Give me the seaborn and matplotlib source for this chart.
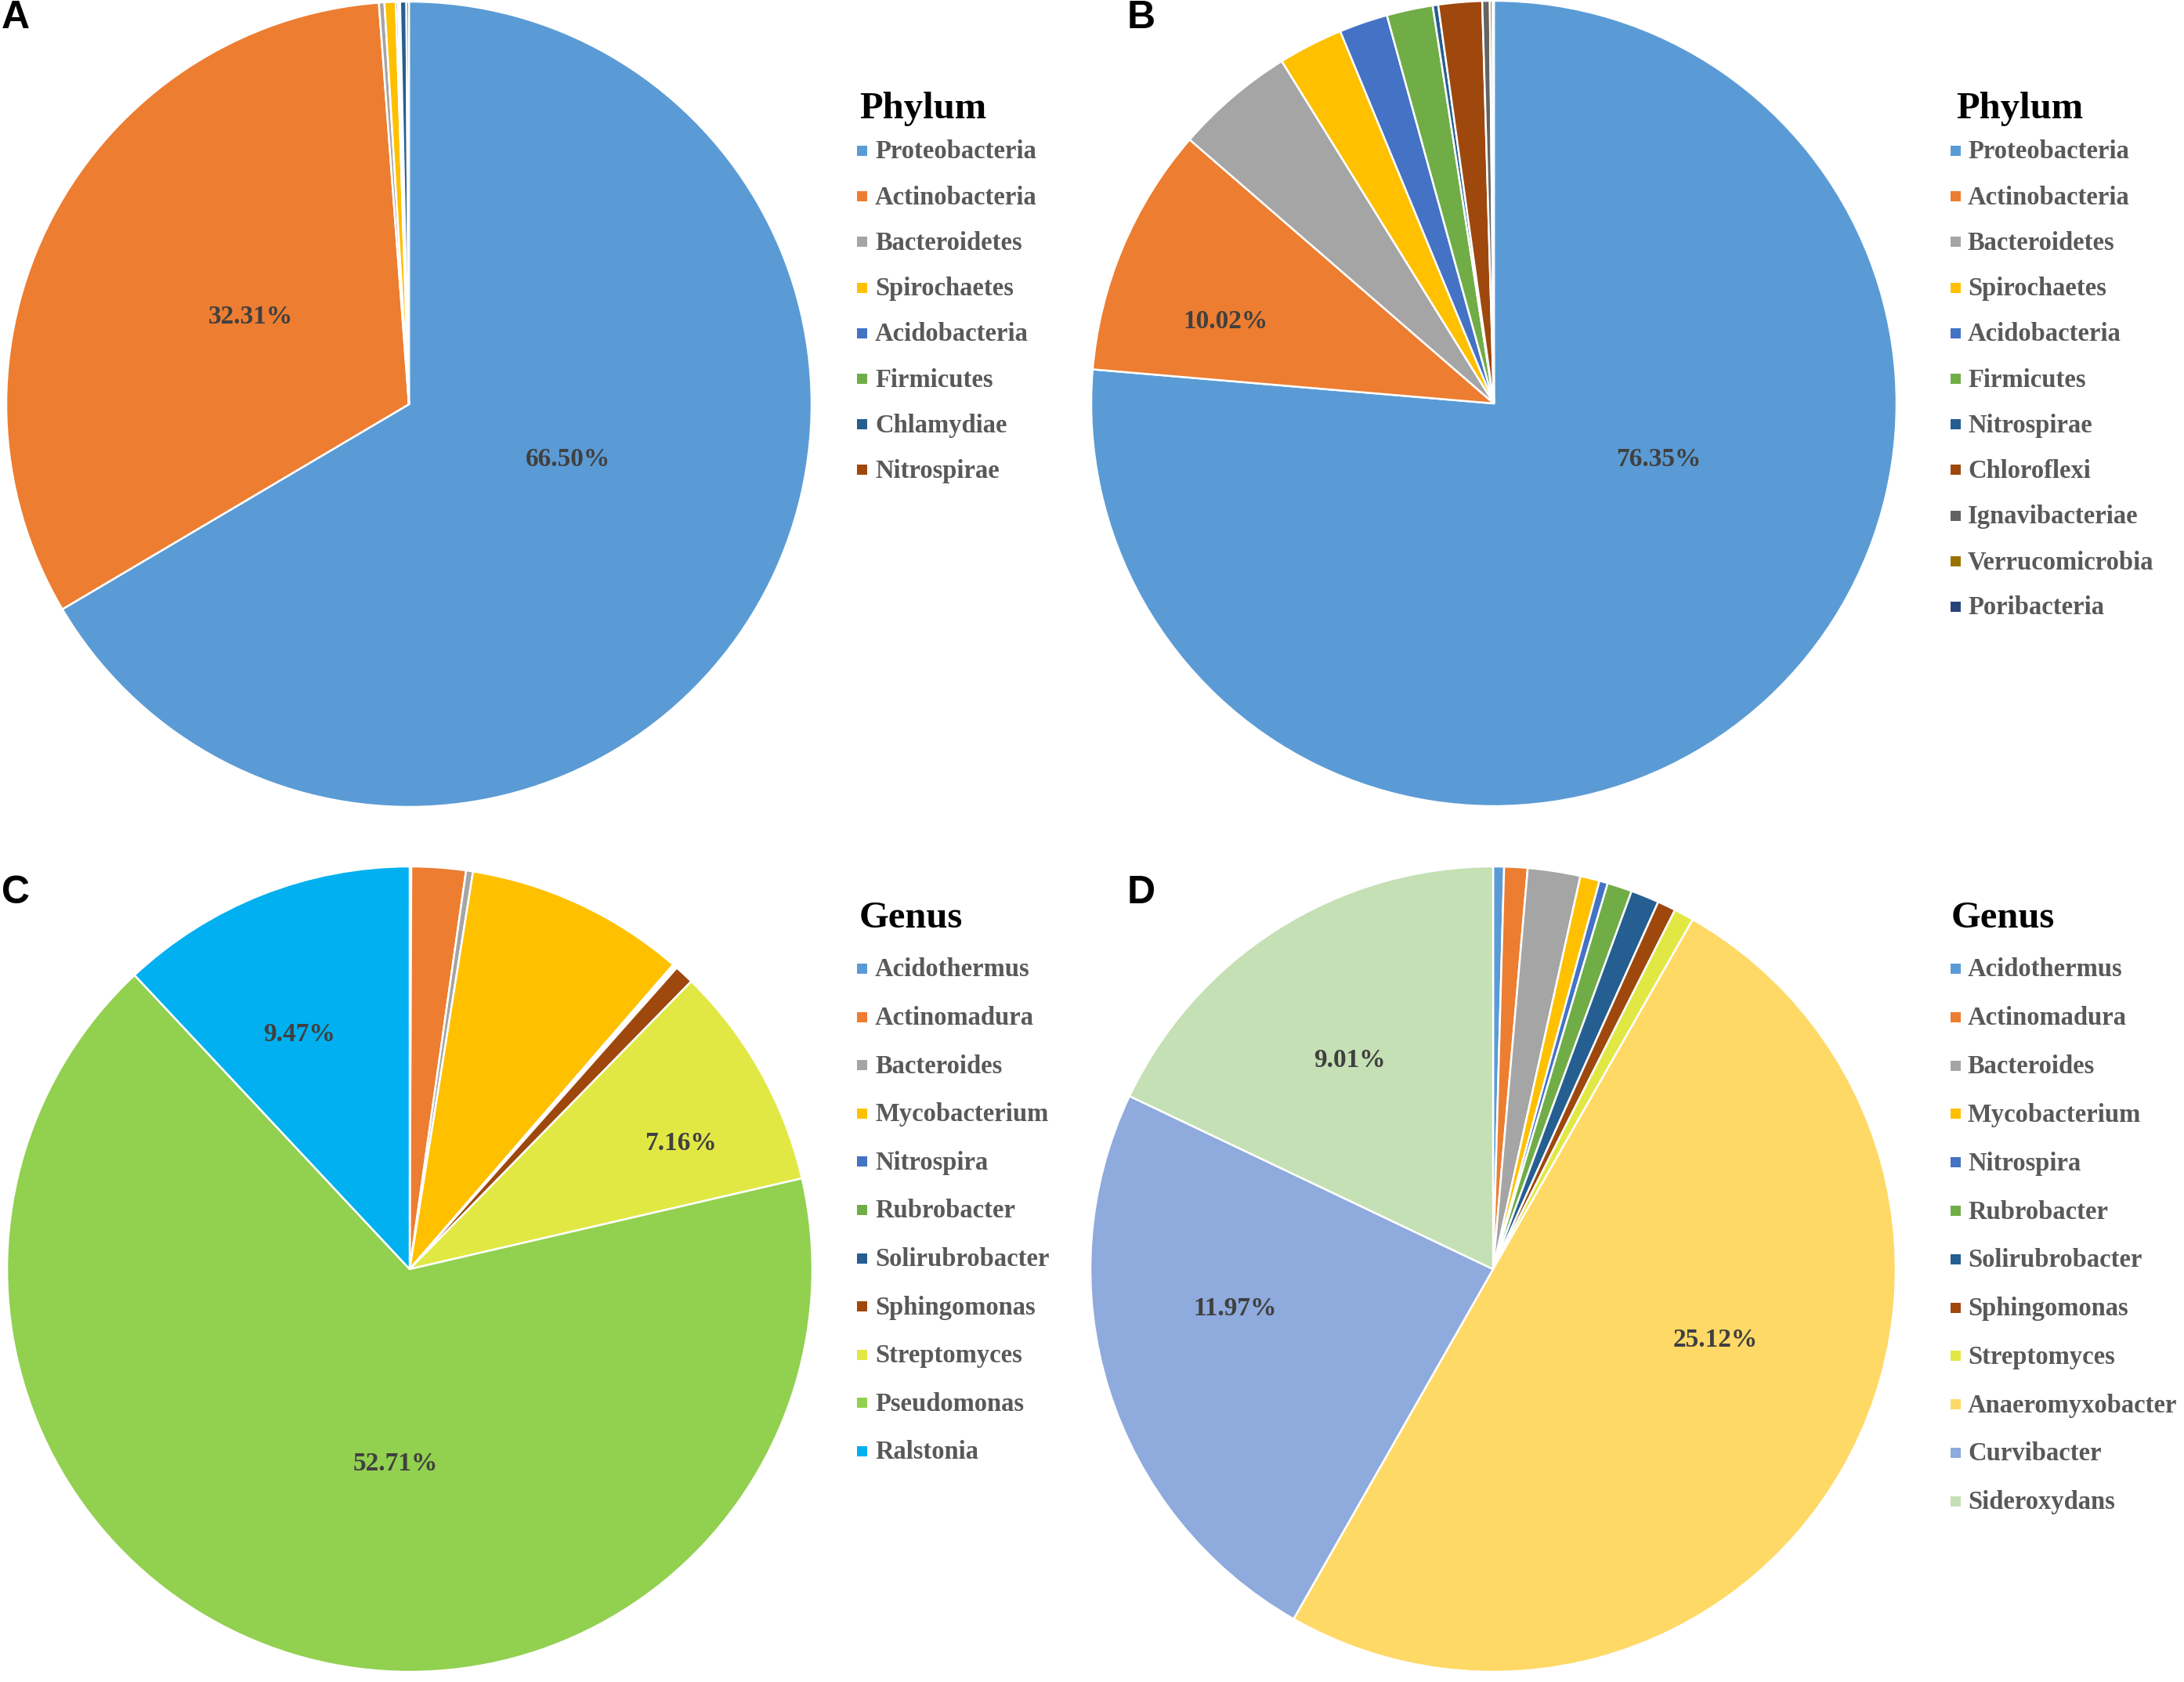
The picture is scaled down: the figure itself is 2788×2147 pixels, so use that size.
import matplotlib
matplotlib.use("Agg")
import matplotlib.pyplot as plt
import seaborn as sns
from matplotlib.patches import Rectangle

# panel A / B: phylum level
phylum_a = ['Proteobacteria', 'Actinobacteria', 'Bacteroidetes', 'Spirochaetes',
            'Acidobacteria', 'Firmicutes', 'Chlamydiae', 'Nitrospirae']
pct_a = [66.50, 32.31, 0.22, 0.45, 0.09, 0.08, 0.25, 0.10]

phylum_b = ['Proteobacteria', 'Actinobacteria', 'Bacteroidetes', 'Spirochaetes',
            'Acidobacteria', 'Firmicutes', 'Nitrospirae', 'Chloroflexi',
            'Ignavibacteriae', 'Verrucomicrobia', 'Poribacteria']
pct_b = [76.35, 10.02, 4.80, 2.60, 1.95, 1.85, 0.22, 1.75, 0.30, 0.11, 0.05]

# panel C / D: genus level (raw abundances, pie normalises them)
genus_c = ['Acidothermus', 'Actinomadura', 'Bacteroides', 'Mycobacterium',
           'Nitrospira', 'Rubrobacter', 'Solirubrobacter', 'Sphingomonas',
           'Streptomyces', 'Pseudomonas', 'Ralstonia']
pct_c = [0.05, 1.72, 0.22, 6.99, 0.04, 0.06, 0.05, 0.62, 7.16, 52.71, 9.47]

genus_d = ['Acidothermus', 'Actinomadura', 'Bacteroides', 'Mycobacterium',
           'Nitrospira', 'Rubrobacter', 'Solirubrobacter', 'Sphingomonas',
           'Streptomyces', 'Anaeromyxobacter', 'Curvibacter', 'Sideroxydans']
pct_d = [0.22, 0.47, 1.06, 0.39, 0.17, 0.50, 0.57, 0.37, 0.40, 25.12, 11.97, 9.01]

# which slices carry a value label
shown_a = ['Proteobacteria', 'Actinobacteria']
shown_b = ['Proteobacteria', 'Actinobacteria']
shown_c = ['Pseudomonas', 'Streptomyces', 'Ralstonia']
shown_d = ['Anaeromyxobacter', 'Curvibacter', 'Sideroxydans']

office = ['#5B9BD5', '#ED7D31', '#A5A5A5', '#FFC000', '#4472C4', '#70AD47',
          '#255E91', '#9E480E', '#636363', '#997300', '#264478']
col_a = office[:6] + ['#255E91', '#9E480E']
col_b = office
col_c = office[:8] + ['#E1E844', '#92D050', '#00B0F0']
col_d = office[:8] + ['#E1E844', '#FFD966', '#8FAADC', '#C5E0B4']

sns.set_theme(style='white')
plt.rcParams['font.family'] = ['Liberation Serif', 'DejaVu Serif']

W, H = 2788, 2147
fig = plt.figure(figsize=(W / 100, H / 100), dpi=100)
fig.patch.set_facecolor('white')

def fx(px):
    return px / W

def fy(py):
    return 1 - py / H

# label offsets in units of radius (layout only)
label_pos = {
    'A': {'Proteobacteria': (0.395, -0.137), 'Actinobacteria': (-0.394, 0.216)},
    'B': {'Proteobacteria': (0.409, -0.139), 'Actinobacteria': (-0.667, 0.203)},
    'C': {'Ralstonia': (-0.274, 0.582), 'Streptomyces': (0.674, 0.312),
          'Pseudomonas': (-0.035, -0.484)},
    'D': {'Anaeromyxobacter': (0.553, -0.176), 'Curvibacter': (-0.640, -0.099),
          'Sideroxydans': (-0.356, 0.519)},
}

panels = [
    ('A', phylum_a, pct_a, col_a, shown_a, (522, 516), 'Phylum',
     (1097, 151), (1094, 1117, 192, 58.2), (2, 36)),
    ('B', phylum_b, pct_b, col_b, shown_b, (1907, 515), 'Phylum',
     (2497, 151), (2490, 2512, 192, 58.2), (1439, 36)),
    ('C', genus_c, pct_c, col_c, shown_c, (523, 1620), 'Genus',
     (1097, 1184), (1094, 1117, 1236, 61.6), (2, 1153)),
    ('D', genus_d, pct_d, col_d, shown_d, (1906, 1620), 'Genus',
     (2491, 1184), (2490, 2512, 1236, 61.8), (1439, 1153)),
]

R = 514
for key, names, vals, cols, shown, (cx, cy), title, tpos, leg, lpos in panels:
    ax = fig.add_axes([fx(cx - R), fy(cy + R), 2 * R / W, 2 * R / H])
    ax.pie(vals, colors=cols, startangle=90, counterclock=False, radius=1,
           wedgeprops=dict(edgecolor='white', linewidth=1.8))
    ax.set_xlim(-1, 1)
    ax.set_ylim(-1, 1)
    ax.set_aspect('equal')
    ax.axis('off')
    for name in shown:
        v = vals[names.index(name)]
        x, y = label_pos[key][name]
        ax.text(x, y, f'{v:.2f}%', ha='center', va='center', fontsize=24,
                fontweight='bold', color='#404040')

    # panel letter
    fig.text(fx(lpos[0]), fy(lpos[1]), key, ha='left', va='baseline',
             fontsize=36, fontweight='bold', family=['Liberation Sans', 'DejaVu Sans'],
             color='black')

    # legend
    fig.text(fx(tpos[0]), fy(tpos[1]), title, ha='left', va='baseline',
             fontsize=35, fontweight='bold', color='black')
    mx, tx, y0, step = leg
    for i, (name, c) in enumerate(zip(names, cols)):
        yc = y0 + i * step
        fig.patches.append(Rectangle((fx(mx), fy(yc + 7)), 13 / W, 13 / H,
                                     transform=fig.transFigure, facecolor=c,
                                     edgecolor='none'))
        fig.text(fx(tx), fy(yc + 10.5), name, ha='left', va='baseline',
                 fontsize=23.5, fontweight='bold', color='#595959')

fig.savefig('out.png', dpi=100, facecolor='white')
